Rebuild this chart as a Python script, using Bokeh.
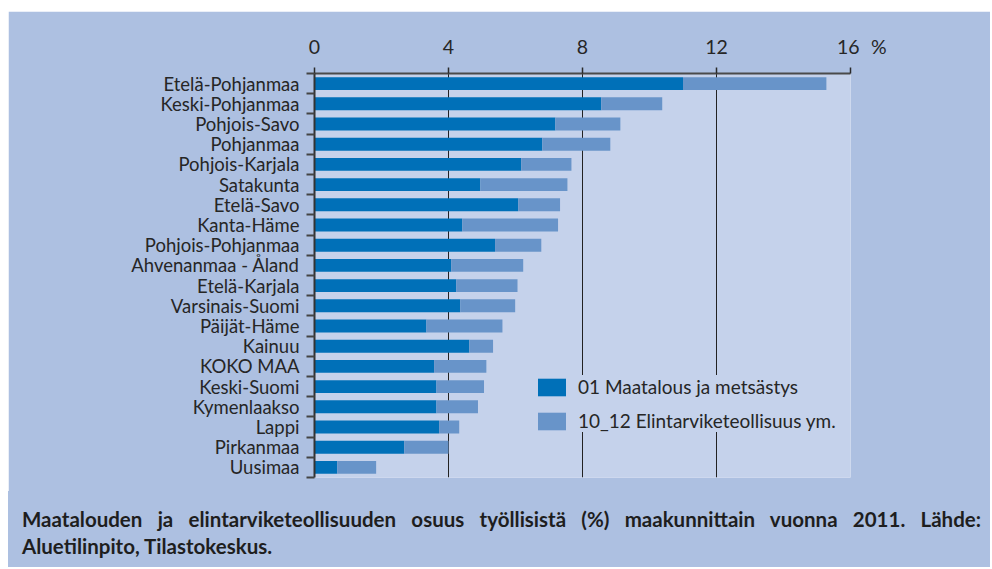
from bokeh.plotting import figure
from bokeh.models import Range1d, FixedTicker, ColumnDataSource, Div
from bokeh.layouts import column
from bokeh.embed import file_html
from bokeh.resources import INLINE

regions = ["Etelä-Pohjanmaa", "Keski-Pohjanmaa", "Pohjois-Savo", "Pohjanmaa",
           "Pohjois-Karjala", "Satakunta", "Etelä-Savo", "Kanta-Häme",
           "Pohjois-Pohjanmaa", "Ahvenanmaa - Åland", "Etelä-Karjala",
           "Varsinais-Suomi", "Päijät-Häme", "Kainuu", "KOKO MAA", "Keski-Suomi",
           "Kymenlaakso", "Lappi", "Pirkanmaa", "Uusimaa"]
maatalous = [11.0, 8.56, 7.19, 6.80, 6.17, 4.95, 6.08, 4.41, 5.39, 4.08,
             4.23, 4.35, 3.34, 4.62, 3.57, 3.64, 3.64, 3.72, 2.68, 0.68]
elintarvike = [4.28, 1.82, 1.94, 2.03, 1.50, 2.60, 1.25, 2.86, 1.38, 2.15,
               1.83, 1.64, 2.27, 0.71, 1.56, 1.42, 1.24, 0.60, 1.32, 1.16]
x_ticks = [0, 4, 8, 12, 16]
x_unit = "%"
series_names = ["01 Maatalous ja metsästys", "10_12 Elintarviketeollisuus ym."]
caption_lines = ["Maatalouden ja elintarviketeollisuuden osuus työllisistä (%) maakunnittain vuonna 2011. Lähde:",
                 "Aluetilinpito, Tilastokeskus."]

OUTER = "#adc0e1"
INNER = "#c5d2eb"
DARK = "#0070b8"
LIGHT = "#6894c9"
TEXT = "#262626"
FONT = "Lato"
FSP = "\u2007"

n = len(regions)
ypos = list(range(n))
src = ColumnDataSource(dict(y=ypos, maa=maatalous, elin=elintarvike))

p = figure(width=982, height=480, output_backend="svg", toolbar_location=None,
           x_range=Range1d(0, 16), y_range=Range1d(n - 0.5, -0.5),
           x_axis_location="above",
           min_border_left=306, min_border_right=140,
           min_border_top=62, min_border_bottom=14)
p.background_fill_color = INNER
p.border_fill_color = OUTER
p.outline_line_color = None

p.hbar_stack(["maa", "elin"], y="y", height=0.64, source=src,
             color=[DARK, LIGHT], line_color=None, legend_label=series_names)

# x axis (top)
xa = p.xaxis[0]
xa.ticker = FixedTicker(ticks=x_ticks)
labels = {t: str(t) for t in x_ticks}
labels[x_ticks[-1]] = FSP + FSP + str(x_ticks[-1]) + FSP + x_unit
xa.major_label_overrides = labels
xa.axis_line_color = "#4a4a4a"
xa.axis_line_width = 2
xa.major_tick_line_color = "#2a2a2a"
xa.major_tick_line_width = 1.5
xa.major_tick_out = 6
xa.major_tick_in = 0
xa.minor_tick_line_color = None
xa.major_label_text_font = FONT
xa.major_label_text_font_size = "19.5px"
xa.major_label_text_color = TEXT
xa.major_label_standoff = 10

# y axis (left)
ya = p.yaxis[0]
ya.ticker = FixedTicker(ticks=ypos, minor_ticks=[i - 0.5 for i in range(n + 1)])
ya.major_label_overrides = {i: r for i, r in enumerate(regions)}
ya.axis_line_color = "#333333"
ya.axis_line_width = 2
ya.major_tick_line_color = None
ya.major_tick_out = 8
ya.major_tick_in = 0
ya.minor_tick_line_color = "#444444"
ya.minor_tick_line_width = 2
ya.minor_tick_out = 8
ya.minor_tick_in = 0
ya.major_label_text_font = FONT
ya.major_label_text_font_size = "18.5px"
ya.major_label_text_color = TEXT
ya.major_label_standoff = 7

p.xgrid.ticker = FixedTicker(ticks=x_ticks)
p.xgrid.grid_line_color = "#222222"
p.xgrid.grid_line_width = 1
p.xgrid.grid_line_alpha = 1
p.ygrid.grid_line_color = None

lg = p.legend[0]
lg.location = (220, 45)
lg.background_fill_color = INNER
lg.background_fill_alpha = 1
lg.border_line_color = None
lg.padding = 9
lg.margin = 0
lg.spacing = 11
lg.glyph_width = 35
lg.glyph_height = 22
lg.label_height = 18
lg.label_standoff = 9
lg.label_text_font = FONT
lg.label_text_font_size = "19px"
lg.label_text_color = TEXT

# caption panel (first line justified to full width, like the original)
cap_html = (
    '<div style="box-sizing:border-box; width:982px; padding:15px 9px 0 14px; '
    'font-family:Lato; font-weight:bold; font-size:20.5px; line-height:27px; color:#1e1e1e;">'
    '<div style="text-align:justify; text-align-last:justify;">' + caption_lines[0] + '</div>'
    '<div style="text-align:left;">' + caption_lines[1] + '</div>'
    '</div>'
)
cap = Div(text=cap_html, width=982, height=76, margin=(0, 0, 0, 0),
          styles={"background-color": OUTER})

layout = column(p, cap, spacing=0, margin=(11, 0, 0, 8))
open("out.html", "w").write(file_html(layout, INLINE))
